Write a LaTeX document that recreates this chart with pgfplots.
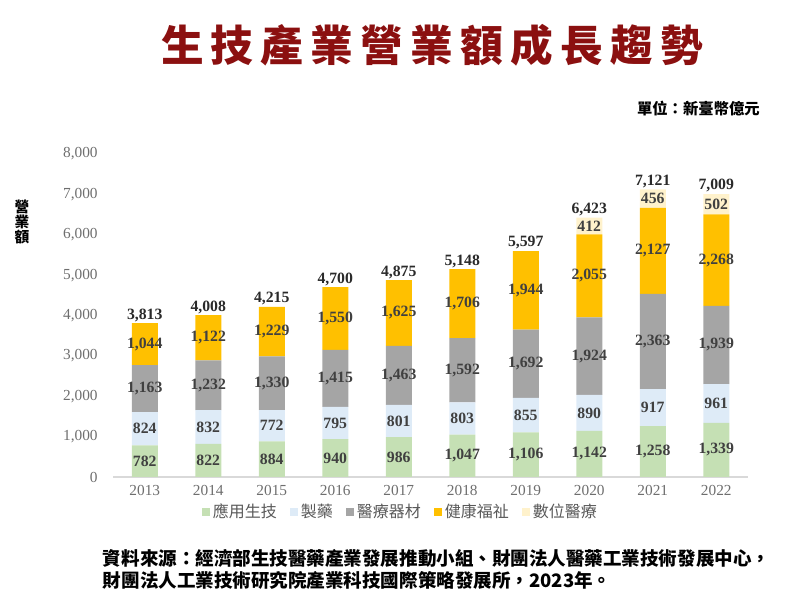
\documentclass[border=0pt]{standalone}
\usepackage{pgfplots}
\pgfplotsset{compat=1.18}
\usepackage{pgfplotstable}
\usepackage{fontspec}
\setmainfont{Liberation Serif}
\newfontfamily\cjk{Noto Sans CJK TC}
\newfontfamily\cjktitle[LetterSpace=17]{Noto Sans CJK TC}
\definecolor{cA}{HTML}{C5E0B4}
\definecolor{cB}{HTML}{DEEBF7}
\definecolor{cC}{HTML}{A5A5A5}
\definecolor{cD}{HTML}{FFC000}
\definecolor{cE}{HTML}{FFF2CC}
\definecolor{labdark}{HTML}{404040}
\definecolor{totdark}{HTML}{2A2A2A}
\definecolor{tickgray}{HTML}{6E6E6E}
\definecolor{leggray}{HTML}{595959}
\definecolor{axgray}{HTML}{D9D9D9}
\definecolor{titlered}{RGB}{139,16,16}
\pgfplotstableread{
x a b c d e tot
0 782 824 1163 1044 0 3813
1 822 832 1232 1122 0 4008
2 884 772 1330 1229 0 4215
3 940 795 1415 1550 0 4700
4 986 801 1463 1625 0 4875
5 1047 803 1592 1706 0 5148
6 1106 855 1692 1944 0 5597
7 1142 890 1924 2055 412 6423
8 1258 917 2363 2127 456 7121
9 1339 961 1939 2268 502 7009
}\data
\pgfplotsset{
  base/.style={
    at={(84.75pt,104.25pt)}, anchor=south west,
    scale only axis, width=476.25pt, height=242.25pt,
    xmin=-0.5, xmax=9.5, ymin=0, ymax=8000, enlargelimits=false,
    /pgf/number format/.cd, fixed, precision=0, 1000 sep={,}, assume math mode=true, /pgfplots/.cd,
  },
  seglab/.style={draw=none, mark=none, nodes near coords, point meta=explicit,
    every node near coord/.style={anchor=center, inner sep=0pt, color=labdark, font=\bfseries\fontsize{11.8}{12}\selectfont}},
}
\begin{document}
\begin{tikzpicture}
\path[use as bounding box] (0,0) rectangle (600pt,462pt);
\node[font=\cjktitle\bfseries\fontsize{32}{32}\selectfont, text=titlered, inner sep=0pt] at (324pt,428.25pt) {生技產業營業額成長趨勢};
\node[font=\cjk\bfseries\fontsize{11.5}{12}\selectfont, anchor=east, inner sep=0pt] at (570pt,380.25pt) {單位：新臺幣億元};
\node[font=\cjk\bfseries\fontsize{11}{11}\selectfont, align=center, inner sep=0pt] at (16.5pt,295.5pt) {營\\業\\額};
\node[font=\cjk\bfseries\fontsize{13.9}{16}\selectfont, anchor=west, inner sep=0pt] at (77pt,43.5pt) {資料來源：經濟部生技醫藥產業發展推動小組、財團法人醫藥工業技術發展中心，};
\node[font=\cjk\bfseries\fontsize{13.9}{16}\selectfont, anchor=west, inner sep=0pt] at (77pt,27pt) {財團法人工業技術研究院產業科技國際策略發展所，2023年。};
\begin{axis}[base,
  ybar stacked, bar width=19.5pt,
  axis x line*=bottom, axis y line*=left,
  x axis line style={draw=axgray, line width=1pt},
  y axis line style={draw=none},
  major tick length=0pt,
  xtick=data, xticklabels={2013,2014,2015,2016,2017,2018,2019,2020,2021,2022},
  ytick={0,1000,...,8000}, scaled y ticks=false,
  ticklabel style={font=\fontsize{11.5}{12}\selectfont, text=tickgray},
  yticklabel style={xshift=-8pt},
  xticklabel style={yshift=-3pt},
  legend style={at={(0.4535,-0.108)}, anchor=center, draw=none, fill=none,
    legend columns=5, font=\cjk\fontsize{12}{12}\selectfont, text=leggray,
    /tikz/every even column/.append style={column sep=8pt}},
  legend image code/.code={\fill[#1] (0pt,-3pt) rectangle (6pt,3pt);},
]
\addplot[fill=cA, draw=none] table[x=x,y=a]{\data};
\addplot[fill=cB, draw=none] table[x=x,y=b]{\data};
\addplot[fill=cC, draw=none] table[x=x,y=c]{\data};
\addplot[fill=cD, draw=none] table[x=x,y=d]{\data};
\addplot[fill=cE, draw=none] table[x=x,y=e]{\data};
\legend{應用生技,製藥,醫療器材,健康福祉,數位醫療}
\end{axis}
\begin{axis}[base, hide axis, clip=false]
\addplot[seglab] table[x=x, y expr=\thisrow{a}/2, meta=a]{\data};
\addplot[seglab] table[x=x, y expr=\thisrow{a}+\thisrow{b}/2, meta=b]{\data};
\addplot[seglab] table[x=x, y expr=\thisrow{a}+\thisrow{b}+\thisrow{c}/2, meta=c]{\data};
\addplot[seglab] table[x=x, y expr=\thisrow{a}+\thisrow{b}+\thisrow{c}+\thisrow{d}/2, meta=d]{\data};
\addplot[seglab, skip coords between index={0}{7}] table[x=x, y expr=\thisrow{a}+\thisrow{b}+\thisrow{c}+\thisrow{d}+\thisrow{e}/2, meta=e]{\data};
\addplot[draw=none, mark=none, nodes near coords, point meta=explicit,
  every node near coord/.style={anchor=south, inner sep=0pt, yshift=1pt, color=totdark, font=\bfseries\fontsize{11.8}{12}\selectfont}]
  table[x=x, y=tot, meta=tot]{\data};
\end{axis}
\end{tikzpicture}
\end{document}
